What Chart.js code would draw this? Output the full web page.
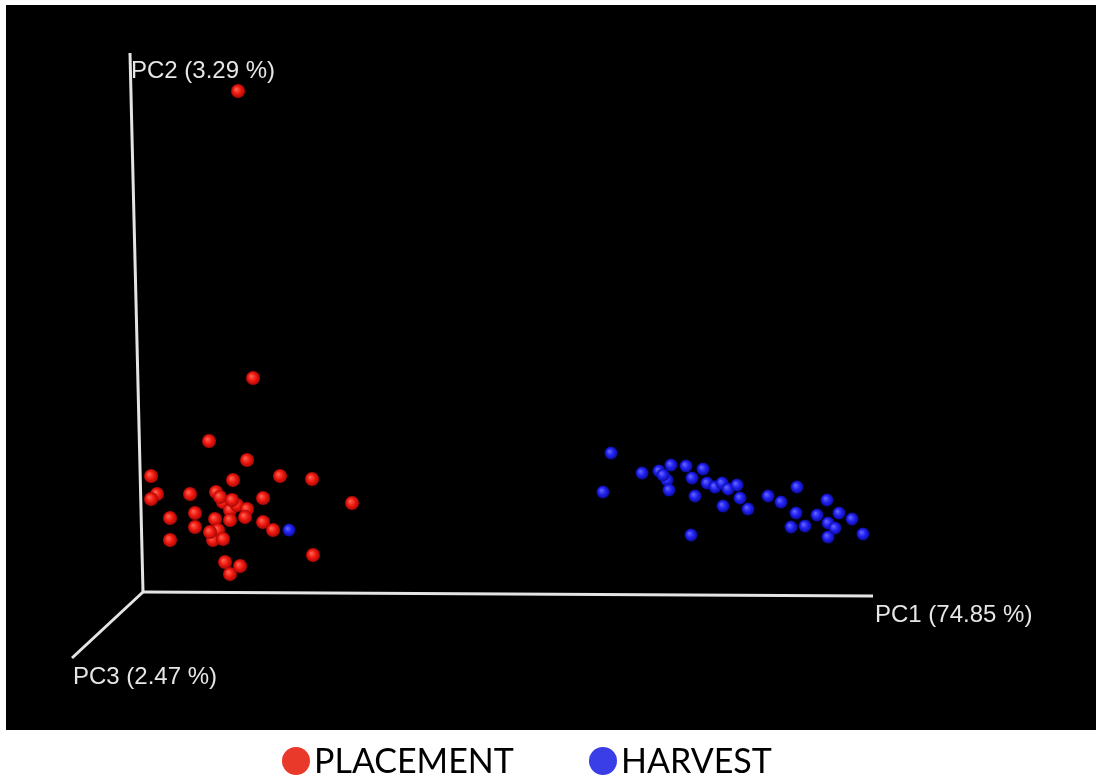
<!DOCTYPE html>
<html>
<head>
<meta charset="utf-8">
<title>PCoA</title>
<script src="https://cdn.jsdelivr.net/npm/chart.js@4.4.0/dist/chart.umd.min.js"></script>
<style>
  html, body { margin: 0; padding: 0; background: #ffffff; overflow: hidden; }
  canvas { display: block; }
</style>
</head>
<body>
<canvas id="pcoa" width="1096" height="781"></canvas>
<script>
// projected sample scores (screen plane of the 3D PCoA view)
const placementX = [9.5, 11.0, 6.6, 10.4, 0.8, 9.0, 13.7, 16.9, 1.4, 0.8, 4.7, 7.3, 12.0, 20.9, 2.7, 5.2, 5.2, 7.2, 8.0, 8.7, 9.4, 10.4, 10.2, 8.7, 7.5, 7.0, 8.0, 12.0, 13.0, 2.7, 8.2, 9.7, 8.7, 17.0, 6.7, 7.7, 8.9];
const placementY = [50.1, 21.4, 15.1, 13.2, 11.6, 11.2, 11.6, 11.3, 9.8, 9.3, 9.8, 10.0, 9.4, 8.9, 7.4, 7.9, 6.5, 7.3, 9.0, 8.2, 8.7, 8.3, 7.5, 7.2, 6.2, 5.2, 5.3, 7.0, 6.2, 5.2, 3.0, 2.6, 1.8, 3.7, 6.0, 9.5, 9.2];

const harvestX = [14.6, 46.8, 46.0, 49.9, 51.6, 52.8, 52.4, 52.6, 52.0, 54.3, 54.9, 56.0, 55.2, 56.4, 57.2, 57.9, 58.5, 59.4, 59.7, 58.0, 60.5, 54.8, 62.5, 63.8, 65.4, 65.3, 64.8, 66.2, 67.4, 68.4, 69.6, 68.5, 69.2, 68.5, 70.9, 72.0];
const harvestY = [6.2, 13.9, 10.0, 11.9, 12.1, 12.7, 11.2, 10.2, 11.7, 12.6, 11.4, 12.3, 9.6, 10.9, 10.5, 10.9, 10.3, 10.7, 9.4, 8.6, 8.3, 5.7, 9.6, 9.0, 10.5, 7.9, 6.5, 6.6, 7.7, 9.2, 7.9, 6.9, 6.4, 5.5, 7.3, 5.8];

// axis ends of the 3D box, from the origin
const axisNames = ['PC1 (74.85 %)', 'PC2 (3.29 %)', 'PC3 (2.47 %)'];
const axisEndX = [73.0, -1.3, -7.1];
const axisEndY = [-0.4, 53.9, -6.6];
const axisLabelX = [73.2, -1.2, -7.0];
const axisLabelY = [-2.3, 52.1, -8.5];

const groupNames = ['PLACEMENT', 'HARVEST'];
const legendColors = ['#e8392b', '#3a3ee6'];

function toPoints(xs, ys) {
  return xs.map((x, i) => ({ x: x, y: ys[i] }));
}

// little sphere look for each sample
function sphere(light, mid, dark, r) {
  return function (ctx) {
    const chart = ctx.chart;
    const raw = ctx.raw;
    if (!raw || !chart.chartArea) return mid;
    const px = chart.scales.x.getPixelForValue(raw.x);
    const py = chart.scales.y.getPixelForValue(raw.y);
    const g = chart.ctx.createRadialGradient(px - r * 0.3, py - r * 0.3, 0, px, py, r);
    g.addColorStop(0, light);
    g.addColorStop(0.55, mid);
    g.addColorStop(1, dark);
    return g;
  };
}

const axisSets = axisEndX.map((ex, i) => ({
  label: axisNames[i],
  data: [{ x: 0, y: 0 }, { x: ex, y: axisEndY[i] }],
  showLine: true,
  borderColor: '#e4e4e4',
  borderWidth: 3,
  pointRadius: 0,
  order: 10
}));

const pcLabels = {
  id: 'pcLabels',
  beforeDraw(chart) {
    const a = chart.chartArea;
    const c = chart.ctx;
    c.save();
    c.fillStyle = '#000000';
    c.fillRect(a.left, a.top, a.right - a.left, a.bottom - a.top);
    c.restore();
  },
  afterDatasetsDraw(chart) {
    const c = chart.ctx;
    const sx = chart.scales.x, sy = chart.scales.y;
    c.save();
    c.font = '24px "Liberation Sans", Arial, sans-serif';
    c.fillStyle = '#e6e6e6';
    c.textBaseline = 'middle';
    c.textAlign = 'left';
    axisNames.forEach((t, i) => {
      c.fillText(t, sx.getPixelForValue(axisLabelX[i]), sy.getPixelForValue(axisLabelY[i]));
    });
    c.restore();
  },
  afterDraw(chart) {
    // group key under the plot
    const c = chart.ctx;
    const starts = [282, 589];
    c.save();
    c.font = '34px Lato, "Open Sans", sans-serif';
    c.textBaseline = 'alphabetic';
    c.textAlign = 'left';
    groupNames.forEach((name, i) => {
      c.fillStyle = legendColors[i];
      c.beginPath();
      c.arc(starts[i] + 14, 761, 14, 0, Math.PI * 2);
      c.fill();
      c.fillStyle = '#000000';
      c.fillText(name, starts[i] + 32, 773);
    });
    c.restore();
  }
};

const ctx = document.getElementById('pcoa').getContext('2d');
const chart = new Chart(ctx, {
  type: 'scatter',
  data: {
    datasets: [
      {
        label: groupNames[0],
        data: toPoints(placementX, placementY),
        backgroundColor: sphere('#ff6a5a', '#f01a10', '#a80606', 7),
        borderWidth: 0,
        pointRadius: 7,
        order: 1
      },
      {
        label: groupNames[1],
        data: toPoints(harvestX, harvestY),
        backgroundColor: sphere('#6a6aff', '#2222f2', '#0a0a9a', 6.5),
        borderWidth: 0,
        pointRadius: 6.5,
        order: 0
      },
      ...axisSets
    ]
  },
  options: {
    responsive: false,
    animation: false,
    events: [],
    layout: { autoPadding: false, padding: { left: 6, top: 5, right: 0, bottom: 51 } },
    plugins: {
      legend: { display: false },
      tooltip: { enabled: false }
    },
    scales: {
      x: { type: 'linear', min: -13.7, max: 95.3, display: false },
      y: { type: 'linear', min: -13.8, max: 58.7, display: false }
    }
  },
  plugins: [pcLabels]
});
</script>
</body>
</html>
